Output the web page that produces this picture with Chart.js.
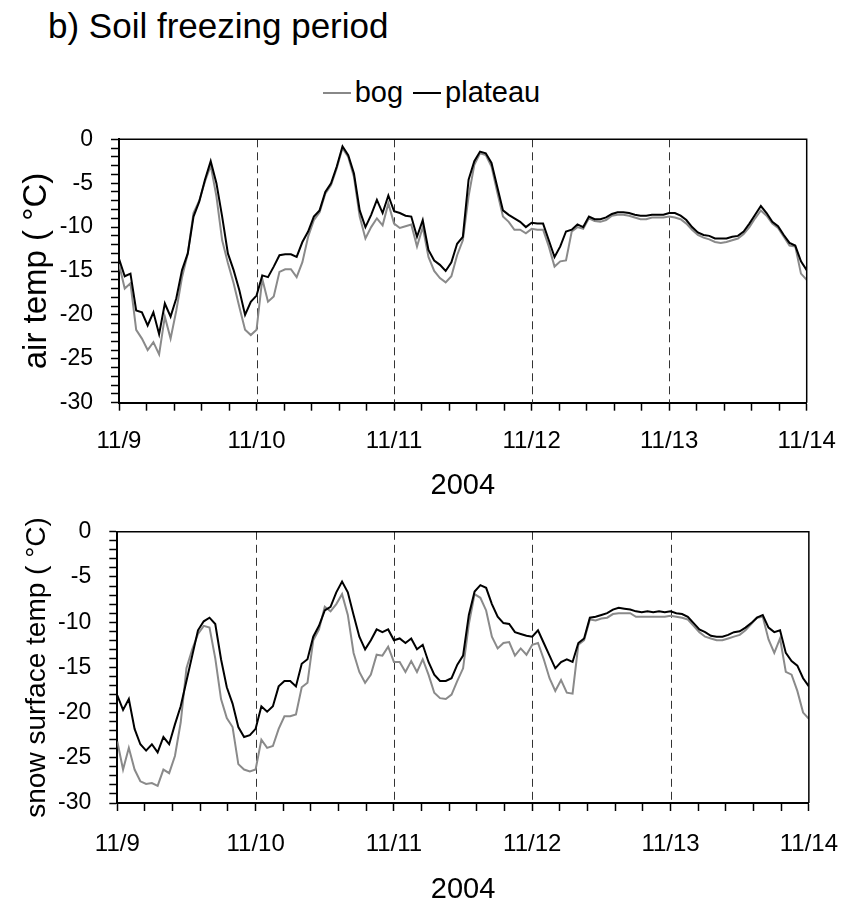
<!DOCTYPE html>
<html>
<head>
<meta charset="utf-8">
<script src="https://cdn.jsdelivr.net/npm/chart.js@4.4.1/dist/chart.umd.min.js"></script>
<style>
  html, body { margin: 0; padding: 0; background: #fff; }
  body { width: 857px; height: 905px; position: relative; overflow: hidden; font-family: 'Liberation Sans', Arial, sans-serif; color: #000; }
  #title { position: absolute; left: 48px; top: 6px; font-size: 35px; white-space: nowrap; }
  #legend { position: absolute; left: 0; width: 857px; top: 76px; text-align: center; font-size: 29px; white-space: nowrap; padding-left: 8px; }
  #legend span.sw { display: inline-block; width: 28px; height: 0; vertical-align: middle; margin: 0 4px 0 0; position: relative; top: -1px; }
  #legend span.lbl { margin-right: 10px; }
  canvas { position: absolute; left: 0; }
</style>
</head>
<body>
<div id="title">b) Soil freezing period</div>
<div id="legend"><span class="sw" style="border-top:2px solid #888;"></span><span class="lbl">bog</span><span class="sw" style="border-top:2px solid #000;"></span><span class="lbl">plateau</span></div>
<canvas id="c1" width="857" height="500" style="top:0;width:857px;height:500px;"></canvas>
<canvas id="c2" width="857" height="405" style="top:500px;width:857px;height:405px;"></canvas>
<script>
// ---- data (hours since 11/9 00:00) ----
const hours = [0,1,2,3,4,5,6,7,8,9,10,11,12,13,14,15,16,17,18,19,20,21,22,23,24,25,26,27,28,29,30,31,32,33,34,35,36,37,38,39,40,41,42,43,44,45,46,47,48,49,50,51,52,53,54,55,56,57,58,59,60,61,62,63,64,65,66,67,68,69,70,71,72,73,74,75,76,77,78,79,80,81,82,83,84,85,86,87,88,89,90,91,92,93,94,95,96,97,98,99,100,101,102,103,104,105,106,107,108,109,110,111,112,113,114,115,116,117,118,119,120];
const dayLabels = ['11/9','11/10','11/11','11/12','11/13','11/14'];
const yearLabel = '2004';
const seriesNames = ['bog','plateau'];

const airBog = [-14.2,-17.0,-16.4,-21.7,-22.7,-24.0,-23.1,-24.5,-20.2,-22.7,-19.5,-15.7,-13.0,-8.4,-7.0,-4.8,-3.0,-6.5,-11.5,-14.1,-16.4,-19.1,-21.7,-22.3,-21.7,
  -15.9,-18.5,-17.9,-15.1,-14.8,-14.8,-15.7,-14.0,-11.1,-9.2,-8.3,-6.2,-5.2,-3.3,-1.0,-2.0,-4.3,-8.8,-11.3,-10.0,-9.0,-9.8,-7.3,-9.6,
  -10.1,-9.9,-9.7,-12.2,-10.0,-13.4,-15.0,-15.8,-16.3,-15.6,-13.2,-11.5,-6.5,-2.9,-1.6,-1.8,-3.1,-6.0,-8.8,-9.4,-10.3,-10.3,-10.7,-10.2,
  -10.3,-10.3,-12.2,-14.5,-13.9,-13.8,-10.5,-10.0,-10.2,-9.0,-9.3,-9.4,-9.2,-8.7,-8.6,-8.6,-8.7,-8.9,-9.1,-9.1,-8.9,-8.9,-8.9,-8.8,
  -8.9,-9.1,-9.6,-10.3,-10.9,-11.2,-11.4,-11.7,-11.8,-11.7,-11.5,-11.3,-10.8,-10.0,-9.0,-8.1,-8.7,-9.6,-10.1,-11.1,-12.1,-12.2,-15.3,-16.0];
const airPlateau = [-13.6,-15.6,-15.3,-19.5,-19.7,-21.2,-19.7,-22.2,-18.7,-20.2,-18.1,-14.9,-13.0,-8.8,-7.1,-4.6,-2.5,-5.0,-8.8,-13.0,-14.9,-17.2,-20.0,-18.5,-17.8,
  -15.5,-15.7,-14.5,-13.2,-13.1,-13.1,-13.4,-11.7,-10.5,-8.8,-8.1,-6.0,-5.0,-3.1,-0.8,-1.8,-3.9,-8.1,-10.0,-8.6,-6.9,-8.4,-6.4,-8.2,
  -8.4,-8.7,-8.8,-11.1,-9.2,-12.6,-13.8,-14.3,-15.0,-14.0,-11.9,-11.1,-4.6,-2.5,-1.4,-1.6,-2.7,-5.4,-8.1,-8.6,-9.0,-9.4,-10.0,-9.5,
  -9.6,-9.6,-11.5,-13.4,-12.2,-10.5,-10.3,-9.7,-10.0,-8.8,-9.1,-9.1,-8.9,-8.5,-8.3,-8.3,-8.4,-8.6,-8.7,-8.7,-8.6,-8.6,-8.6,-8.4,
  -8.4,-8.7,-9.2,-10.0,-10.6,-10.9,-11.0,-11.3,-11.3,-11.3,-11.1,-11.0,-10.5,-9.6,-8.6,-7.6,-8.4,-9.4,-9.9,-10.9,-11.8,-12.1,-13.9,-14.9];

const snowBog = [-23.2,-26.3,-23.9,-26.3,-27.6,-27.9,-27.8,-28.1,-26.3,-26.7,-24.8,-21.1,-15.1,-13.0,-11.3,-10.4,-10.6,-14.0,-18.5,-20.6,-21.6,-25.7,-26.3,-26.5,-26.3,
  -23.0,-23.9,-23.7,-21.8,-20.4,-20.4,-20.2,-17.2,-16.7,-12.0,-10.8,-8.3,-8.8,-8.0,-6.9,-9.2,-13.4,-15.5,-16.7,-15.8,-13.6,-13.7,-12.7,-14.4,
  -14.4,-15.5,-14.3,-15.5,-14.1,-15.8,-17.8,-18.4,-18.5,-18.0,-16.5,-15.1,-10.2,-6.9,-7.3,-8.7,-11.6,-12.9,-12.3,-12.2,-13.7,-12.9,-13.6,-12.5,
  -12.3,-14.1,-16.2,-17.6,-16.4,-17.8,-17.9,-12.5,-12.0,-9.7,-9.8,-9.6,-9.5,-9.1,-9.0,-9.0,-9.0,-9.4,-9.4,-9.4,-9.4,-9.4,-9.4,-9.3,
  -9.4,-9.5,-9.7,-10.4,-11.1,-11.6,-11.8,-12.0,-12.0,-11.8,-11.6,-11.4,-10.9,-10.2,-9.5,-9.4,-11.9,-13.4,-11.8,-15.5,-15.8,-17.6,-20.0,-20.7];
const snowPlateau = [-18.1,-19.7,-18.5,-21.8,-23.5,-24.2,-23.5,-24.4,-22.7,-23.5,-21.3,-19.3,-16.5,-13.7,-10.9,-9.9,-9.5,-10.2,-14.1,-17.2,-19.0,-21.6,-22.7,-22.5,-21.8,
  -19.3,-19.9,-19.3,-17.1,-16.5,-16.5,-17.1,-14.6,-14.1,-11.6,-10.4,-8.7,-8.3,-6.7,-5.5,-6.7,-9.2,-11.6,-13.0,-12.0,-10.8,-11.1,-10.8,-12.0,
  -11.8,-12.3,-11.8,-13.0,-12.5,-14.4,-15.8,-16.5,-16.5,-16.2,-14.7,-13.7,-9.2,-6.6,-5.9,-6.2,-8.0,-9.4,-10.1,-10.2,-11.1,-11.3,-11.5,-11.6,
  -10.9,-12.3,-13.7,-15.1,-14.4,-14.1,-14.4,-12.3,-11.8,-9.5,-9.4,-9.2,-9.0,-8.6,-8.4,-8.5,-8.6,-8.8,-8.9,-8.8,-8.9,-8.8,-8.9,-8.8,
  -9.0,-9.1,-9.4,-10.1,-10.8,-11.1,-11.5,-11.6,-11.6,-11.4,-11.1,-11.0,-10.6,-10.1,-9.5,-9.2,-10.6,-11.1,-10.9,-13.4,-14.3,-14.8,-16.2,-17.1];

// ---- rendering ----
Chart.defaults.font.family = "'Liberation Sans', Arial, Helvetica, sans-serif";
Chart.defaults.color = '#000';

const framePlugin = {
  id: 'frame',
  beforeDatasetsDraw(chart) {
    const {ctx, chartArea: a, scales: {x}} = chart;
    ctx.save();
    ctx.strokeStyle = '#333';
    ctx.lineWidth = 1;
    ctx.setLineDash([8, 5]);
    for (let d = 1; d < dayLabels.length - 1; d++) {
      const px = Math.round(x.getPixelForValue(24 * d)) + 0.5;
      ctx.beginPath();
      ctx.moveTo(px, a.top);
      ctx.lineTo(px, a.bottom);
      ctx.stroke();
    }
    ctx.restore();
  },
  afterDatasetsDraw(chart) {
    const {ctx, chartArea: a} = chart;
    ctx.save();
    ctx.strokeStyle = '#000';
    ctx.lineWidth = 1.5;
    ctx.beginPath();
    ctx.moveTo(a.left, a.top);
    ctx.lineTo(a.right, a.top);
    ctx.lineTo(a.right, a.bottom);
    ctx.stroke();
    ctx.restore();
  }
};

function makeChart(id, bog, plateau, yTitle, g) {
  const toPts = arr => hours.map((h, i) => ({x: h, y: arr[i]}));
  return new Chart(document.getElementById(id), {
    type: 'line',
    data: {
      datasets: [
        {label: seriesNames[1], data: toPts(plateau), borderColor: '#000', borderWidth: 2, pointRadius: 0, tension: 0, order: 1},
        {label: seriesNames[0], data: toPts(bog), borderColor: '#8a8a8a', borderWidth: 2, pointRadius: 0, tension: 0, order: 2}
      ]
    },
    options: {
      responsive: false,
      animation: false,
      events: [],
      layout: {padding: {top: g.padTop, right: g.padRight, left: 0, bottom: 0}},
      plugins: {legend: {display: false}, title: {display: false}, tooltip: {enabled: false}},
      scales: {
        x: {
          type: 'linear', min: 0, max: 120,
          afterFit: s => { s.height = g.xHeight; },
          afterBuildTicks: s => {
            const t = [];
            for (let k = 0; k <= 25; k++) t.push({value: k * 4.8});
            s.ticks = t;
          },
          ticks: {
            autoSkip: false, maxRotation: 0, padding: g.xPad,
            font: {size: 24, lineHeight: 1.2},
            callback: v => {
              const d = v / 24;
              return Math.abs(d - Math.round(d)) < 1e-6 ? dayLabels[Math.round(d)] : '';
            }
          },
          grid: {drawOnChartArea: false, drawTicks: true, tickLength: 8, tickColor: '#000', tickWidth: 1.5},
          border: {display: true, color: '#000', width: 2},
          title: {display: true, text: yearLabel, font: {size: 29, lineHeight: 1}, padding: {top: 0, bottom: g.titleBottom}}
        },
        y: {
          type: 'linear', min: -30, max: 0,
          afterFit: s => { s.width = g.left; },
          afterBuildTicks: s => {
            const t = [];
            for (let v = -30; v <= 0; v++) t.push({value: v});
            s.ticks = t;
          },
          ticks: {
            autoSkip: false,
            padding: 18,
            font: {size: 23, lineHeight: 1.2},
            callback: v => (Math.round(v) % 5 === 0 ? String(Math.round(v)) : '')
          },
          grid: {drawOnChartArea: false, drawTicks: true, tickLength: 8, tickColor: '#000', tickWidth: 1.5},
          border: {display: true, color: '#000', width: 2},
          title: {display: true, text: yTitle, font: {size: g.yTitleSize, lineHeight: 1}, padding: {top: g.yTitlePad, bottom: 0}}
        }
      }
    },
    plugins: [framePlugin]
  });
}

makeChart('c1', airBog, airPlateau, 'air temp ( \u00B0C)',
  {left: 119, padTop: 139.3, padRight: 50.3, xHeight: 97.3, xPad: 16, titleBottom: 0, yTitleSize: 33, yTitlePad: 20});
makeChart('c2', snowBog, snowPlateau, 'snow surface temp ( \u00B0C)',
  {left: 117.3, padTop: 17.5, padRight: 45.3, xHeight: 102, xPad: 19, titleBottom: 1, yTitleSize: 28, yTitlePad: 23});
</script>
</body>
</html>
